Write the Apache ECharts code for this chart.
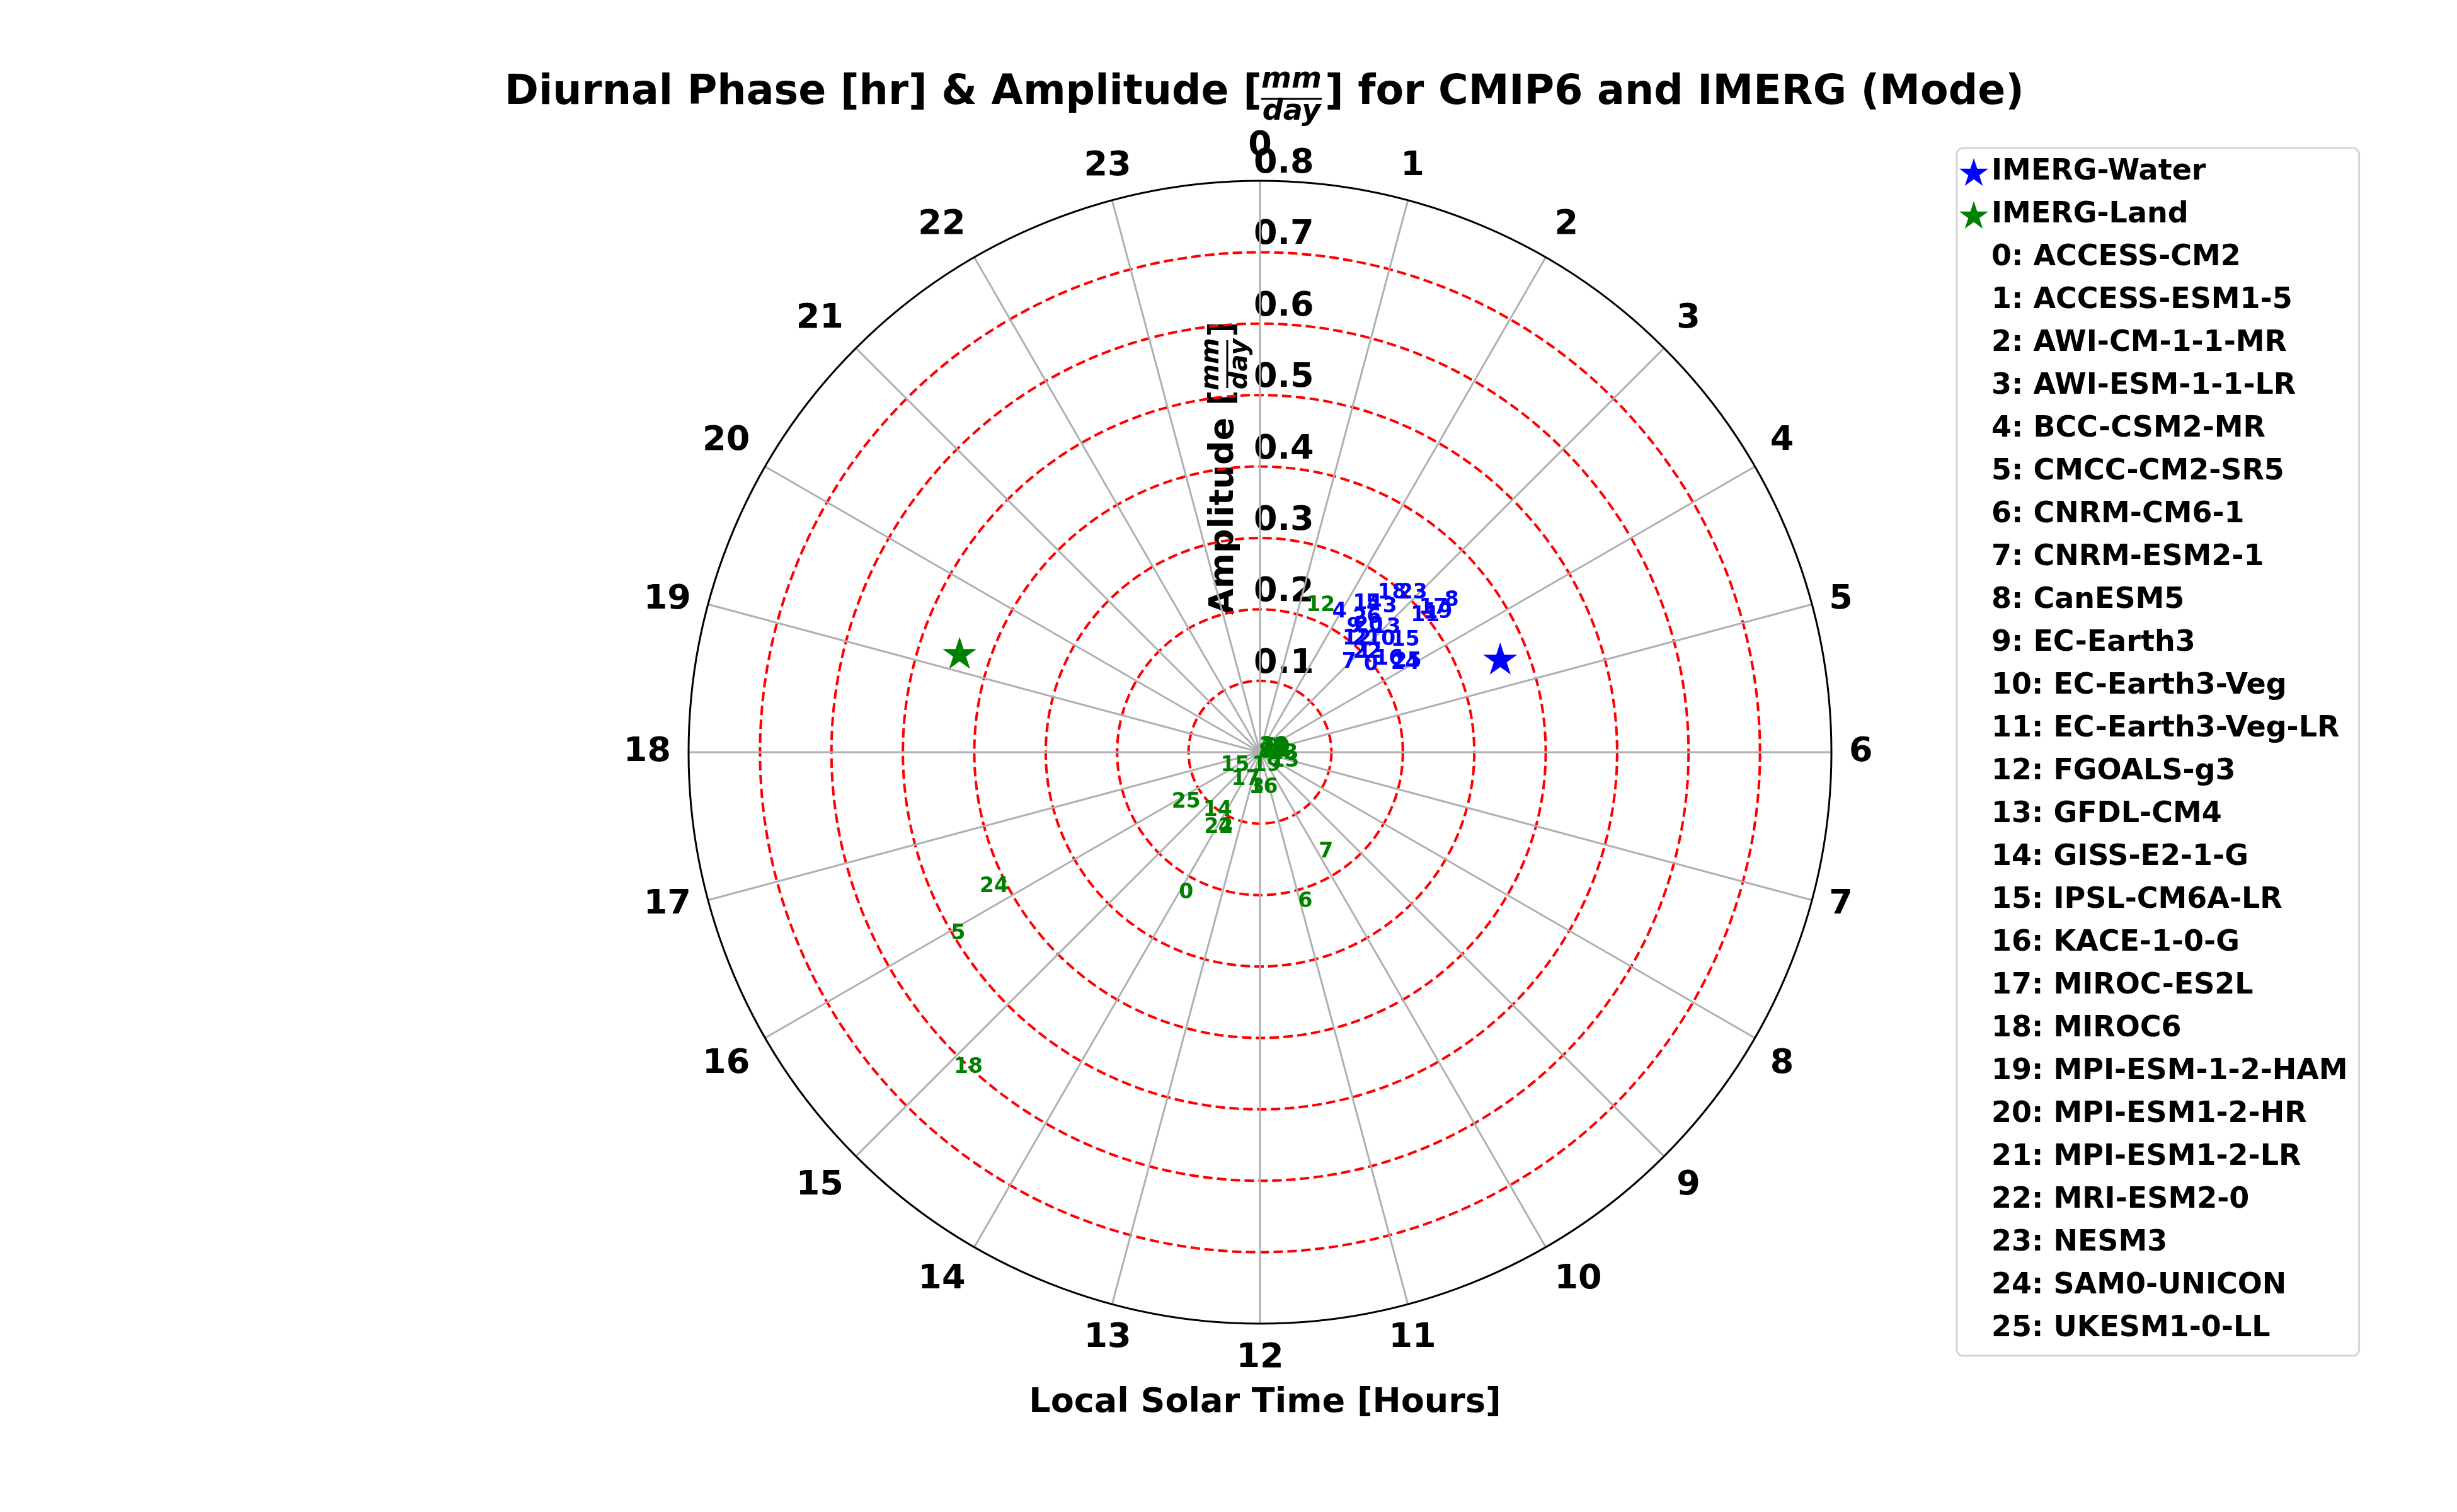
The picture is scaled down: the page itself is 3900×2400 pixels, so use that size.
<!DOCTYPE html>
<html>
<head>
<meta charset="utf-8">
<script src="https://cdn.jsdelivr.net/npm/echarts@6/dist/echarts.min.js"></script>
<style>
  html, body { margin: 0; padding: 0; background: #fff; }
  #chart { width: 3900px; height: 2400px; }
</style>
</head>
<body>
<div id="chart"></div>
<script>
// model names, in legend order
const models = [
  'ACCESS-CM2', 'ACCESS-ESM1-5', 'AWI-CM-1-1-MR', 'AWI-ESM-1-1-LR', 'BCC-CSM2-MR',
  'CMCC-CM2-SR5', 'CNRM-CM6-1', 'CNRM-ESM2-1', 'CanESM5', 'EC-Earth3',
  'EC-Earth3-Veg', 'EC-Earth3-Veg-LR', 'FGOALS-g3', 'GFDL-CM4', 'GISS-E2-1-G',
  'IPSL-CM6A-LR', 'KACE-1-0-G', 'MIROC-ES2L', 'MIROC6', 'MPI-ESM-1-2-HAM',
  'MPI-ESM1-2-HR', 'MPI-ESM1-2-LR', 'MRI-ESM2-0', 'NESM3', 'SAM0-UNICON', 'UKESM1-0-LL'
];

// water: amplitude [mm/day] and phase [hr] per model
const waterAmp = [0.184, 0.188, 0.220, 0.259, 0.212, 0.247, 0.233, 0.163, 0.328, 0.205,
  0.210, 0.278, 0.188, 0.227, 0.237, 0.235, 0.200, 0.294, 0.269, 0.295,
  0.213, 0.197, 0.184, 0.288, 0.216, 0.220];
const waterHour = [3.49, 3.10, 2.42, 2.78, 1.91, 2.46, 2.67, 2.99, 3.47, 2.43,
  3.03, 3.30, 2.54, 2.92, 2.23, 3.43, 3.55, 3.29, 2.52, 3.40,
  2.56, 2.75, 3.01, 2.83, 3.88, 3.86];

// land: amplitude [mm/day] and phase [hr] per model
const landAmp = [0.236, 0.0196, 0.0197, 0.0614, 0.129, 0.507, 0.226, 0.171, 0.0107, 0.0079,
  0.005, 0.0083, 0.2055, 0.0274, 0.121, 0.062, 0.0618, 0.0627, 0.622, 0.031,
  0.002, 0.0092, 0.139, 0.0181, 0.4395, 0.147];
const landHour = [13.91, 6.5, 7.77, 12.83, 13.78, 15.90, 11.08, 10.07, 12.6, 7.77,
  10.5, 9.87, 1.23, 9.79, 14.72, 16.13, 12.94, 14.62, 14.90, 13.33,
  12.0, 10.9, 14.26, 8.87, 16.21, 15.80];

// IMERG observations [amplitude, hour]
const imergWater = [0.361, 4.58];
const imergLand = [0.443, 19.22];

const FONT = '"DejaVu Sans", "Liberation Sans", sans-serif';

// 5-point star like matplotlib '*'
function starPath() {
  const pts = [];
  for (let i = 0; i < 10; i++) {
    const r = i % 2 === 0 ? 50 : 19.1;
    const a = -Math.PI / 2 + i * Math.PI / 5;
    pts.push((50 + r * Math.cos(a)).toFixed(2) + ',' + (50 + r * Math.sin(a)).toFixed(2));
  }
  return 'path://M' + pts.join('L') + 'Z';
}
const STAR = starPath();

const modelSeries = models.map((m, i) => ({
  name: i + ': ' + m,
  type: 'scatter',
  coordinateSystem: 'polar',
  symbol: 'circle',
  symbolSize: 1,
  z: 4,
  itemStyle: { color: 'rgba(0,0,0,0)', opacity: 1 },
  label: {
    show: true,
    formatter: String(i),
    position: [0, 0],
    align: 'left',
    verticalAlign: 'middle',
    offset: [0, -11],
    opacity: 1,
    fontFamily: FONT,
    fontWeight: 'bold',
    fontSize: 33
  },
  data: [
    { value: [waterAmp[i], waterHour[i]], label: { color: '#0000ff' } },
    { value: [landAmp[i], landHour[i]], label: { color: '#008000' } }
  ]
}));

const chart = echarts.init(document.getElementById('chart'));

// fraction mm/day built from pieces, baseline at y = 0
function fraction(size, top, line, bottom, half) {
  return [
    { type: 'text', x: 0, y: top - 0.346 * size, style: { text: 'mm', font: 'italic bold ' + size + 'px ' + FONT, fill: '#000', align: 'center', textAlign: 'center', verticalAlign: 'middle', textVerticalAlign: 'middle' } },
    { type: 'line', shape: { x1: -half, y1: line, x2: half, y2: line }, style: { stroke: '#000', lineWidth: 3 } },
    { type: 'text', x: 0, y: bottom - 0.346 * size, style: { text: 'day', font: 'italic bold ' + size + 'px ' + FONT, fill: '#000', align: 'center', textAlign: 'center', verticalAlign: 'middle', textVerticalAlign: 'middle' } }
  ];
}

function txt(x, y, text, size, align) {
  return {
    type: 'text', x: x, y: y - 0.346 * size,
    style: { text: text, font: 'bold ' + size + 'px ' + FONT, fill: '#000', align: align, textAlign: align, verticalAlign: 'middle', textVerticalAlign: 'middle' }
  };
}

// red dashed rings, none on the outer black circle
const ringColors = ['#ff0000', '#ff0000', '#ff0000', '#ff0000', '#ff0000', '#ff0000', '#ff0000', '#ff0000', 'rgba(0,0,0,0)'];

chart.setOption({
  backgroundColor: '#fff',
  animation: false,
  polar: { center: [2000, 1194], radius: 907 },
  angleAxis: {
    type: 'value',
    min: 0,
    max: 24,
    interval: 1,
    startAngle: 90,
    clockwise: true,
    z: 3,
    axisLine: { show: true, lineStyle: { color: '#000', width: 3 } },
    axisTick: { show: false },
    axisLabel: {
      margin: 28,
      align: 'center',
      verticalAlign: 'middle',
      color: '#000',
      fontFamily: FONT,
      fontWeight: 'bold',
      fontSize: 54,
      formatter: v => (v === 24 ? '' : String(v))
    },
    splitLine: { show: true, lineStyle: { color: '#b0b0b0', width: 3 } }
  },
  radiusAxis: {
    type: 'value',
    min: 0,
    max: 0.8,
    interval: 0.1,
    z: 2,
    axisLine: { show: false },
    axisTick: { show: false },
    axisLabel: {
      margin: 10,
      align: 'left',
      verticalAlign: 'bottom',
      color: '#000',
      fontFamily: FONT,
      fontWeight: 'bold',
      fontSize: 54,
      formatter: v => (v === 0 ? '' : v.toFixed(1))
    },
    splitLine: { show: true, lineStyle: { color: ringColors, width: 4, type: [15, 7] } }
  },
  legend: {
    orient: 'vertical',
    left: 3106,
    top: 235,
    selectedMode: false,
    itemWidth: 46,
    itemHeight: 44,
    itemGap: 18,
    itemTextGap: 16,
    padding: [13, 18, 18, 4],
    borderColor: '#d6d6d6',
    borderWidth: 3,
    borderRadius: 10,
    textStyle: { fontFamily: FONT, fontWeight: 'bold', fontSize: 46, color: '#000', lineHeight: 50 },
    data: [{ name: 'IMERG-Water' }, { name: 'IMERG-Land' }]
      .concat(models.map((m, i) => ({ name: i + ': ' + m, icon: 'none' })))
  },
  graphic: [
    // title
    txt(2003, 171, 'Diurnal Phase [hr] & Amplitude [', 65, 'right'),
    { type: 'group', x: 2050, y: 171, children: fraction(46, -28, -14, 23, 48) },
    txt(2103, 171, '] for CMIP6 and IMERG (Mode)', 65, 'left'),
    // radial axis name
    {
      type: 'group', x: 1962, y: 976, rotation: Math.PI / 2,
      children: [
        txt(0, 0, 'Amplitude [', 54, 'left'),
        { type: 'group', x: 398, y: 0, children: fraction(40, -25, -14, 20, 38) },
        txt(441, 0, ']', 54, 'left')
      ]
    },
    // angular axis name
    txt(2008, 2246, 'Local Solar Time [Hours]', 54, 'center')
  ],
  series: [
    {
      name: 'IMERG-Water', type: 'scatter', coordinateSystem: 'polar',
      symbol: STAR, symbolSize: [54, 51], z: 5,
      itemStyle: { color: '#0000ff', opacity: 1 },
      data: [imergWater]
    },
    {
      name: 'IMERG-Land', type: 'scatter', coordinateSystem: 'polar',
      symbol: STAR, symbolSize: [54, 51], z: 5,
      itemStyle: { color: '#008000', opacity: 1 },
      data: [imergLand]
    }
  ].concat(modelSeries)
});
</script>
</body>
</html>
